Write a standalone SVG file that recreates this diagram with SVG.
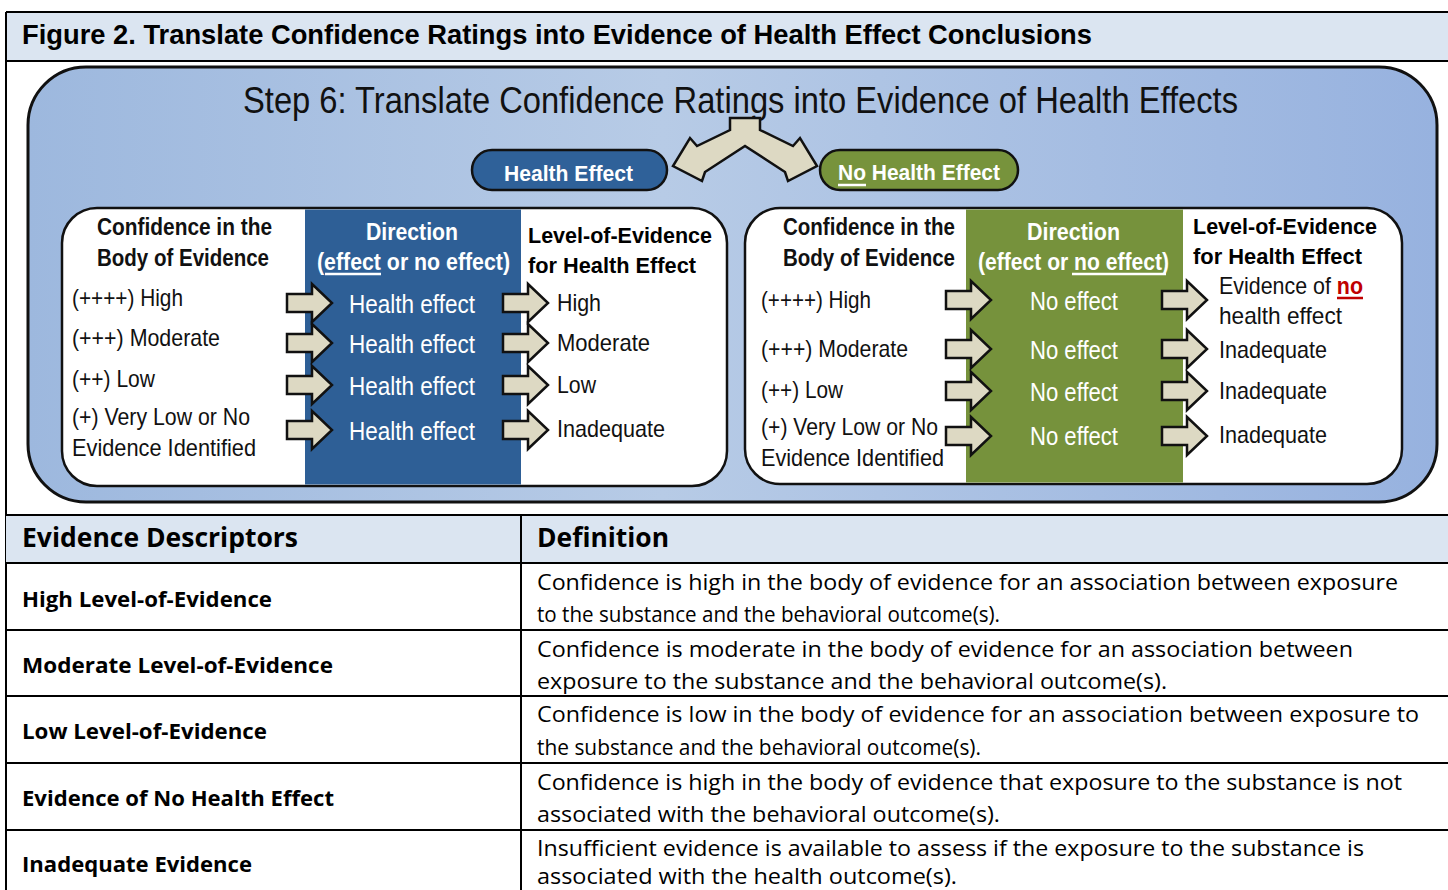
<svg xmlns="http://www.w3.org/2000/svg" width="1448" height="890" viewBox="0 0 1448 890">
<style>
.t{font-family:"Liberation Sans",Arial,sans-serif;}
.b{font-weight:bold;}
.pt{font-family:"Liberation Sans",Arial,sans-serif;font-size:24px;fill:#111;}
.ph{font-family:"Liberation Sans",Arial,sans-serif;font-size:23px;font-weight:bold;fill:#111;}
.wh{font-family:"Liberation Sans",Arial,sans-serif;font-size:25px;fill:#fff;}
.whb{font-family:"Liberation Sans",Arial,sans-serif;font-size:23px;font-weight:bold;fill:#fff;}
.tb{font-family:"Open Sans","Liberation Sans",sans-serif;font-size:21px;fill:#000;}
.tbb{font-family:"Open Sans","Liberation Sans",sans-serif;font-size:21px;font-weight:bold;fill:#000;}
.th{font-family:"Open Sans","Liberation Sans",sans-serif;font-size:26px;font-weight:bold;fill:#000;}
.grid{stroke:#000;stroke-width:2;fill:none;}
.arr{fill:#ddd9c3;stroke:#111;stroke-width:2.5;stroke-linejoin:miter;}
.ul{stroke-width:2.5;}
</style>
<defs>
<linearGradient id="bg" x1="0" y1="0" x2="1" y2="0">
<stop offset="0" stop-color="#9db8de"/>
<stop offset="0.45" stop-color="#b7cbe6"/>
<stop offset="1" stop-color="#97b2df"/>
</linearGradient>
<path id="ba" d="M0,-9 H25 V-19 L45,0 L25,19 V9 H0 Z"/>
</defs>

<!-- Frame and header -->
<g id="header">
<rect x="6" y="12" width="1442" height="49" fill="#dbe5f1"/>
<line class="grid" x1="6" y1="12" x2="1448" y2="12"/>
<line class="grid" x1="6" y1="61" x2="1448" y2="61"/>
<line class="grid" x1="6" y1="12" x2="6" y2="890"/>
<text class="t b" x="22" y="44" font-size="27" textLength="1070" lengthAdjust="spacingAndGlyphs">Figure 2. Translate Confidence Ratings into Evidence of Health Effect Conclusions</text>
</g>

<!-- Outer step panel -->
<g id="step6">
<rect x="28" y="67" width="1409" height="435" rx="58" ry="58" fill="url(#bg)" stroke="#111" stroke-width="3"/>
<text class="t" x="243" y="113" font-size="36" fill="#111" textLength="995" lengthAdjust="spacingAndGlyphs">Step 6: Translate Confidence Ratings into Evidence of Health Effects</text>
</g>

<g id="health-effect-pill">
<rect x="472" y="150" width="195" height="40" rx="20" fill="#2f6199" stroke="#111" stroke-width="2.5"/>
<text class="t b" x="504" y="181" font-size="22" fill="#fff" textLength="129" lengthAdjust="spacingAndGlyphs">Health Effect</text>
</g>
<g id="no-health-effect-pill">
<rect x="820" y="150" width="198" height="40" rx="20" fill="#77933c" stroke="#111" stroke-width="2.5"/>
<text class="t b" x="838" y="180" font-size="22" fill="#fff" textLength="162" lengthAdjust="spacingAndGlyphs">No Health Effect</text>
<line x1="838" y1="185" x2="866" y2="185" stroke="#fff" class="ul"/>
</g>

<!-- Left panel -->
<g id="left-panel">
<rect x="62" y="208" width="665" height="278" rx="35" fill="#fff" stroke="#111" stroke-width="2.5"/>
<rect x="305" y="209.5" width="216" height="275" fill="#2e5f96"/>
<text class="ph" x="97" y="235" textLength="175" lengthAdjust="spacingAndGlyphs">Confidence in the</text>
<text class="ph" x="97" y="266" textLength="172" lengthAdjust="spacingAndGlyphs">Body of Evidence</text>
<text class="whb" x="366" y="240" textLength="92" lengthAdjust="spacingAndGlyphs">Direction</text>
<text class="whb" x="317" y="270" textLength="193" lengthAdjust="spacingAndGlyphs">(effect or no effect)</text>
<line x1="325" y1="274" x2="381" y2="274" stroke="#fff" class="ul"/>
<text class="t b" x="528" y="243" font-size="22" fill="#000" textLength="184" lengthAdjust="spacingAndGlyphs">Level-of-Evidence</text>
<text class="t b" x="528" y="273" font-size="22" fill="#000" textLength="168" lengthAdjust="spacingAndGlyphs">for Health Effect</text>
<text class="pt" x="72" y="306" textLength="111" lengthAdjust="spacingAndGlyphs">(++++) High</text>
<text class="pt" x="72" y="346" textLength="148" lengthAdjust="spacingAndGlyphs">(+++) Moderate</text>
<text class="pt" x="72" y="387" textLength="83" lengthAdjust="spacingAndGlyphs">(++) Low</text>
<text class="pt" x="72" y="425" textLength="178" lengthAdjust="spacingAndGlyphs">(+) Very Low or No</text>
<text class="pt" x="72" y="456" textLength="184" lengthAdjust="spacingAndGlyphs">Evidence Identified</text>
<text class="wh" x="349" y="313" textLength="126" lengthAdjust="spacingAndGlyphs">Health effect</text>
<text class="wh" x="349" y="353" textLength="126" lengthAdjust="spacingAndGlyphs">Health effect</text>
<text class="wh" x="349" y="395" textLength="126" lengthAdjust="spacingAndGlyphs">Health effect</text>
<text class="wh" x="349" y="440" textLength="126" lengthAdjust="spacingAndGlyphs">Health effect</text>
<text class="pt" x="557" y="311" textLength="44" lengthAdjust="spacingAndGlyphs">High</text>
<text class="pt" x="557" y="351" textLength="93" lengthAdjust="spacingAndGlyphs">Moderate</text>
<text class="pt" x="557" y="393" textLength="39" lengthAdjust="spacingAndGlyphs">Low</text>
<text class="pt" x="557" y="437" textLength="108" lengthAdjust="spacingAndGlyphs">Inadequate</text>
</g>

<!-- Right panel -->
<g id="right-panel">
<rect x="745" y="208" width="657" height="276" rx="35" fill="#fff" stroke="#111" stroke-width="2.5"/>
<rect x="966" y="209.5" width="217" height="273" fill="#76923c"/>
<text class="ph" x="783" y="235" textLength="172" lengthAdjust="spacingAndGlyphs">Confidence in the</text>
<text class="ph" x="783" y="266" textLength="172" lengthAdjust="spacingAndGlyphs">Body of Evidence</text>
<text class="whb" x="1027" y="240" textLength="93" lengthAdjust="spacingAndGlyphs">Direction</text>
<text class="whb" x="978" y="270" textLength="191" lengthAdjust="spacingAndGlyphs">(effect or no effect)</text>
<line x1="1072" y1="274" x2="1166" y2="274" stroke="#fff" class="ul"/>
<text class="t b" x="1193" y="234" font-size="22" fill="#000" textLength="184" lengthAdjust="spacingAndGlyphs">Level-of-Evidence</text>
<text class="t b" x="1193" y="264" font-size="22" fill="#000" textLength="169" lengthAdjust="spacingAndGlyphs">for Health Effect</text>
<text class="pt" x="761" y="308" textLength="110" lengthAdjust="spacingAndGlyphs">(++++) High</text>
<text class="pt" x="761" y="357" textLength="147" lengthAdjust="spacingAndGlyphs">(+++) Moderate</text>
<text class="pt" x="761" y="398" textLength="82" lengthAdjust="spacingAndGlyphs">(++) Low</text>
<text class="pt" x="761" y="435" textLength="177" lengthAdjust="spacingAndGlyphs">(+) Very Low or No</text>
<text class="pt" x="761" y="466" textLength="183" lengthAdjust="spacingAndGlyphs">Evidence Identified</text>
<text class="wh" x="1030" y="310" textLength="88" lengthAdjust="spacingAndGlyphs">No effect</text>
<text class="wh" x="1030" y="359" textLength="88" lengthAdjust="spacingAndGlyphs">No effect</text>
<text class="wh" x="1030" y="401" textLength="88" lengthAdjust="spacingAndGlyphs">No effect</text>
<text class="wh" x="1030" y="445" textLength="88" lengthAdjust="spacingAndGlyphs">No effect</text>
<text class="pt" x="1219" y="294" textLength="144" lengthAdjust="spacingAndGlyphs">Evidence of <tspan fill="#c00000" font-weight="bold">no</tspan></text>
<line x1="1337" y1="298" x2="1363" y2="298" stroke="#c00000" class="ul"/>
<text class="pt" x="1219" y="324" textLength="123" lengthAdjust="spacingAndGlyphs">health effect</text>
<text class="pt" x="1219" y="358" textLength="108" lengthAdjust="spacingAndGlyphs">Inadequate</text>
<text class="pt" x="1219" y="399" textLength="108" lengthAdjust="spacingAndGlyphs">Inadequate</text>
<text class="pt" x="1219" y="443" textLength="108" lengthAdjust="spacingAndGlyphs">Inadequate</text>
</g>

<!-- Connectors (arrows) -->
<g id="connectors">
<polygon class="arr" points="730,118 760,118 760,130 793,146 800,138 817,166 788,181 785,172 745,146 705,172 702,181 673,166 690,138 697,146 730,130"/>
<use href="#ba" class="arr" x="287" y="303"/>
<use href="#ba" class="arr" x="287" y="343"/>
<use href="#ba" class="arr" x="287" y="385"/>
<use href="#ba" class="arr" x="287" y="430"/>
<use href="#ba" class="arr" x="503" y="303"/>
<use href="#ba" class="arr" x="503" y="343"/>
<use href="#ba" class="arr" x="503" y="385"/>
<use href="#ba" class="arr" x="503" y="430"/>
<use href="#ba" class="arr" x="946" y="300"/>
<use href="#ba" class="arr" x="946" y="349"/>
<use href="#ba" class="arr" x="946" y="391"/>
<use href="#ba" class="arr" x="946" y="436"/>
<use href="#ba" class="arr" x="1162" y="300"/>
<use href="#ba" class="arr" x="1162" y="349"/>
<use href="#ba" class="arr" x="1162" y="391"/>
<use href="#ba" class="arr" x="1162" y="436"/>
</g>

<!-- Table -->
<g id="table">
<rect x="6" y="515" width="1442" height="48" fill="#dbe5f1"/>
<line class="grid" x1="6" y1="515" x2="1448" y2="515"/>
<line class="grid" x1="6" y1="563" x2="1448" y2="563"/>
<line class="grid" x1="6" y1="630" x2="1448" y2="630"/>
<line class="grid" x1="6" y1="696" x2="1448" y2="696"/>
<line class="grid" x1="6" y1="763" x2="1448" y2="763"/>
<line class="grid" x1="6" y1="830" x2="1448" y2="830"/>
<line class="grid" x1="521" y1="515" x2="521" y2="890"/>
<text class="th" x="22" y="547" textLength="276" lengthAdjust="spacingAndGlyphs">Evidence Descriptors</text>
<text class="th" x="537" y="547" textLength="132" lengthAdjust="spacingAndGlyphs">Definition</text>
<text class="tbb" x="22" y="607" textLength="250" lengthAdjust="spacingAndGlyphs">High Level-of-Evidence</text>
<text class="tbb" x="22" y="673" textLength="311" lengthAdjust="spacingAndGlyphs">Moderate Level-of-Evidence</text>
<text class="tbb" x="22" y="739" textLength="245" lengthAdjust="spacingAndGlyphs">Low Level-of-Evidence</text>
<text class="tbb" x="22" y="806" textLength="312" lengthAdjust="spacingAndGlyphs">Evidence of No Health Effect</text>
<text class="tbb" x="22" y="872" textLength="230" lengthAdjust="spacingAndGlyphs">Inadequate Evidence</text>
<text class="tb" x="537" y="590" textLength="861" lengthAdjust="spacingAndGlyphs">Confidence is high in the body of evidence for an association between exposure</text>
<text class="tb" x="537" y="622" textLength="463" lengthAdjust="spacingAndGlyphs">to the substance and the behavioral outcome(s).</text>
<text class="tb" x="537" y="657" textLength="816" lengthAdjust="spacingAndGlyphs">Confidence is moderate in the body of evidence for an association between</text>
<text class="tb" x="537" y="689" textLength="630" lengthAdjust="spacingAndGlyphs">exposure to the substance and the behavioral outcome(s).</text>
<text class="tb" x="537" y="722" textLength="882" lengthAdjust="spacingAndGlyphs">Confidence is low in the body of evidence for an association between exposure to</text>
<text class="tb" x="537" y="755" textLength="444" lengthAdjust="spacingAndGlyphs">the substance and the behavioral outcome(s).</text>
<text class="tb" x="537" y="790" textLength="865" lengthAdjust="spacingAndGlyphs">Confidence is high in the body of evidence that exposure to the substance is not</text>
<text class="tb" x="537" y="822" textLength="463" lengthAdjust="spacingAndGlyphs">associated with the behavioral outcome(s).</text>
<text class="tb" x="537" y="856" textLength="827" lengthAdjust="spacingAndGlyphs">Insufficient evidence is available to assess if the exposure to the substance is</text>
<text class="tb" x="537" y="884" textLength="420" lengthAdjust="spacingAndGlyphs">associated with the health outcome(s).</text>
</g>
</svg>
